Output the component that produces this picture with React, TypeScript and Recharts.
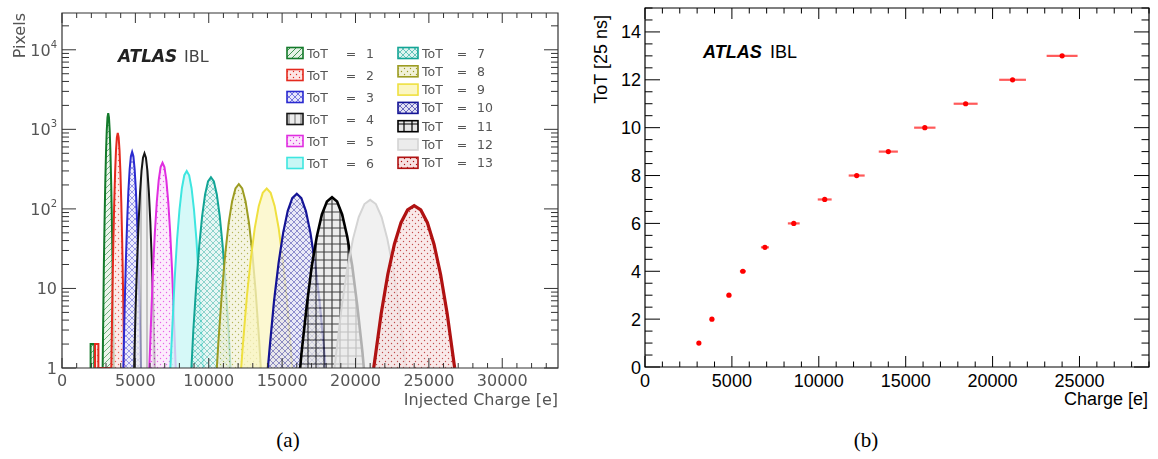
import React from 'react';
import { ComposedChart, Area, XAxis, YAxis, ReferenceArea, ScatterChart, Scatter, ErrorBar } from 'recharts';

// ---------- Panel (a): ToT distributions (counts vs injected charge) ----------
const totNames = ['1', '2', '3', '4', '5', '6', '7', '8', '9', '10', '11', '12', '13'];
const totColors = ['#137a2a', '#e42a1e', '#2a2ad0', '#151515', '#e02ee0', '#3ee6e0', '#13a596', '#9c9c22', '#efe040', '#141496', '#000000', '#d4d4d4', '#b01212'];
const totTints = ['#e6f2e6', '#fde6e4', '#e6e6fb', '#ececec', '#fbe6fb', '#c8f7f5', '#dff3f0', '#f1f1d8', '#fbf6c2', '#e2e2f4', '#e6e6e6', '#ececec', '#f7e2e2'];
const totHatch = ['diag', 'dots', 'cross', 'vert', 'dots', 'solid', 'cross', 'dots', 'solid', 'cross', 'grid', 'solid', 'dots'];
const totWidths = [2, 2, 2, 2, 2, 2, 2, 2, 2, 2.2, 2.6, 2, 3.2];

const tot1 = [{ q: 1950, n: 1 }, { q: 1950, n: 2 }, { q: 2200, n: 2 }, { q: 2200, n: 1 }, { q: 2770, n: 1 }, { q: 2850, n: 18 }, { q: 2900, n: 70 }, { q: 2950, n: 216 }, { q: 3000, n: 520 }, { q: 3050, n: 970 }, { q: 3100, n: 1412 }, { q: 3150, n: 1600 }, { q: 3200, n: 1412 }, { q: 3250, n: 970 }, { q: 3300, n: 520 }, { q: 3350, n: 216 }, { q: 3400, n: 70 }, { q: 3450, n: 18 }, { q: 3530, n: 1 }];
const tot2 = [{ q: 2250, n: 1 }, { q: 2250, n: 2 }, { q: 2480, n: 2 }, { q: 2480, n: 1 }, { q: 3360, n: 1 }, { q: 3440, n: 10 }, { q: 3500, n: 40 }, { q: 3560, n: 122 }, { q: 3620, n: 292 }, { q: 3680, n: 546 }, { q: 3740, n: 794 }, { q: 3800, n: 900 }, { q: 3860, n: 794 }, { q: 3920, n: 546 }, { q: 3980, n: 292 }, { q: 4040, n: 122 }, { q: 4100, n: 40 }, { q: 4160, n: 10 }, { q: 4240, n: 1 }];
const tot3 = [{ q: 4180, n: 1 }, { q: 4270, n: 6 }, { q: 4355, n: 23 }, { q: 4440, n: 70 }, { q: 4525, n: 169 }, { q: 4610, n: 315 }, { q: 4695, n: 459 }, { q: 4780, n: 520 }, { q: 4865, n: 459 }, { q: 4950, n: 315 }, { q: 5035, n: 169 }, { q: 5120, n: 70 }, { q: 5205, n: 23 }, { q: 5290, n: 6 }, { q: 5380, n: 1 }];
const tot4 = [{ q: 4915, n: 1 }, { q: 5020, n: 6 }, { q: 5120, n: 22 }, { q: 5220, n: 68 }, { q: 5320, n: 162 }, { q: 5420, n: 303 }, { q: 5520, n: 441 }, { q: 5620, n: 500 }, { q: 5720, n: 441 }, { q: 5820, n: 303 }, { q: 5920, n: 162 }, { q: 6020, n: 68 }, { q: 6120, n: 22 }, { q: 6220, n: 6 }, { q: 6325, n: 1 }];
const tot5 = [{ q: 5950, n: 1 }, { q: 6070, n: 4 }, { q: 6200, n: 17 }, { q: 6330, n: 51 }, { q: 6460, n: 123 }, { q: 6590, n: 230 }, { q: 6720, n: 335 }, { q: 6850, n: 380 }, { q: 6980, n: 335 }, { q: 7110, n: 230 }, { q: 7240, n: 123 }, { q: 7370, n: 51 }, { q: 7500, n: 17 }, { q: 7630, n: 4 }, { q: 7750, n: 1 }];
const tot6 = [{ q: 7385, n: 1 }, { q: 7510, n: 3 }, { q: 7675, n: 13 }, { q: 7840, n: 41 }, { q: 8005, n: 97 }, { q: 8170, n: 182 }, { q: 8335, n: 265 }, { q: 8500, n: 300 }, { q: 8665, n: 265 }, { q: 8830, n: 182 }, { q: 8995, n: 97 }, { q: 9160, n: 41 }, { q: 9325, n: 13 }, { q: 9490, n: 3 }, { q: 9615, n: 1 }];
const tot7 = [{ q: 8820, n: 1 }, { q: 8950, n: 3 }, { q: 9150, n: 11 }, { q: 9350, n: 34 }, { q: 9550, n: 81 }, { q: 9750, n: 152 }, { q: 9950, n: 221 }, { q: 10150, n: 250 }, { q: 10350, n: 221 }, { q: 10550, n: 152 }, { q: 10750, n: 81 }, { q: 10950, n: 34 }, { q: 11150, n: 11 }, { q: 11350, n: 3 }, { q: 11480, n: 1 }];
const tot8 = [{ q: 10550, n: 1 }, { q: 10670, n: 2.3 }, { q: 10900, n: 9 }, { q: 11130, n: 28 }, { q: 11360, n: 67 }, { q: 11590, n: 124 }, { q: 11820, n: 181 }, { q: 12050, n: 205 }, { q: 12280, n: 181 }, { q: 12510, n: 124 }, { q: 12740, n: 67 }, { q: 12970, n: 28 }, { q: 13200, n: 9 }, { q: 13430, n: 2.3 }, { q: 13550, n: 1 }];
const tot9 = [{ q: 12210, n: 1 }, { q: 12330, n: 2 }, { q: 12600, n: 8 }, { q: 12870, n: 24 }, { q: 13140, n: 58 }, { q: 13410, n: 109 }, { q: 13680, n: 159 }, { q: 13950, n: 180 }, { q: 14220, n: 159 }, { q: 14490, n: 109 }, { q: 14760, n: 58 }, { q: 15030, n: 24 }, { q: 15300, n: 8 }, { q: 15570, n: 2 }, { q: 15690, n: 1 }];
const tot10 = [{ q: 14030, n: 1 }, { q: 14140, n: 1.7 }, { q: 14450, n: 7 }, { q: 14760, n: 21 }, { q: 15070, n: 50 }, { q: 15380, n: 94 }, { q: 15690, n: 137 }, { q: 16000, n: 155 }, { q: 16310, n: 137 }, { q: 16620, n: 94 }, { q: 16930, n: 50 }, { q: 17240, n: 21 }, { q: 17550, n: 7 }, { q: 17860, n: 1.7 }, { q: 17970, n: 1 }];
const tot11 = [{ q: 16230, n: 1 }, { q: 16330, n: 1.6 }, { q: 16675, n: 6 }, { q: 17020, n: 19 }, { q: 17365, n: 45 }, { q: 17710, n: 85 }, { q: 18055, n: 124 }, { q: 18400, n: 140 }, { q: 18745, n: 124 }, { q: 19090, n: 85 }, { q: 19435, n: 45 }, { q: 19780, n: 19 }, { q: 20125, n: 6 }, { q: 20470, n: 1.6 }, { q: 20570, n: 1 }];
const tot12 = [{ q: 18570, n: 1 }, { q: 18660, n: 1.4 }, { q: 19050, n: 5.7 }, { q: 19440, n: 18 }, { q: 19830, n: 42 }, { q: 20220, n: 79 }, { q: 20610, n: 115 }, { q: 21000, n: 130 }, { q: 21390, n: 115 }, { q: 21780, n: 79 }, { q: 22170, n: 42 }, { q: 22560, n: 18 }, { q: 22950, n: 5.7 }, { q: 23340, n: 1.4 }, { q: 23430, n: 1 }];
const tot13 = [{ q: 21240, n: 1 }, { q: 21300, n: 1.2 }, { q: 21750, n: 4.8 }, { q: 22200, n: 15 }, { q: 22650, n: 36 }, { q: 23100, n: 67 }, { q: 23550, n: 97 }, { q: 24000, n: 110 }, { q: 24450, n: 97 }, { q: 24900, n: 67 }, { q: 25350, n: 36 }, { q: 25800, n: 15 }, { q: 26250, n: 4.8 }, { q: 26700, n: 1.2 }, { q: 26760, n: 1 }];
const totSeries = [tot1, tot2, tot3, tot4, tot5, tot6, tot7, tot8, tot9, tot10, tot11, tot12, tot13];

const aXMax = 33800;
const aYMin = 1;
const aYMax = 29000;
const aXTicks = [0, 1000, 2000, 3000, 4000, 5000, 6000, 7000, 8000, 9000, 10000, 11000, 12000, 13000, 14000, 15000, 16000, 17000, 18000, 19000, 20000, 21000, 22000, 23000, 24000, 25000, 26000, 27000, 28000, 29000, 30000, 31000, 32000, 33000];
const aXLabels = [0, 5000, 10000, 15000, 20000, 25000, 30000];
const aYTicks = [1, 2, 3, 4, 5, 6, 7, 8, 9, 10, 20, 30, 40, 50, 60, 70, 80, 90, 100, 200, 300, 400, 500, 600, 700, 800, 900, 1000, 2000, 3000, 4000, 5000, 6000, 7000, 8000, 9000, 10000, 20000];
const aYMajor = [1, 10, 100, 1000, 10000];
const aYExp = ['', '', '2', '3', '4'];

// ---------- Panel (b): ToT vs charge ----------
const bToT = [1, 2, 3, 4, 5, 6, 7, 8, 9, 10, 11, 12, 13];
const bCharge = [3100, 3850, 4830, 5630, 6900, 8560, 10340, 12180, 14000, 16100, 18450, 21150, 24000];
const bChargeErr = [70, 100, 130, 170, 230, 340, 400, 460, 550, 615, 690, 770, 890];
const bXMax = 29000;
const bYMax = 15;
const bXTicks = [0, 1000, 2000, 3000, 4000, 5000, 6000, 7000, 8000, 9000, 10000, 11000, 12000, 13000, 14000, 15000, 16000, 17000, 18000, 19000, 20000, 21000, 22000, 23000, 24000, 25000, 26000, 27000, 28000, 29000];
const bXLabels = [0, 5000, 10000, 15000, 20000, 25000];
const bYTicks = [0, 0.5, 1, 1.5, 2, 2.5, 3, 3.5, 4, 4.5, 5, 5.5, 6, 6.5, 7, 7.5, 8, 8.5, 9, 9.5, 10, 10.5, 11, 11.5, 12, 12.5, 13, 13.5, 14, 14.5, 15];
const bYLabels = [0, 2, 4, 6, 8, 10, 12, 14];

const bData = bToT.map((t, i) => ({ q: bCharge[i], tot: t, ex: bChargeErr[i] }));

const AFONT = '"DejaVu Sans", "Liberation Sans", sans-serif';
const BFONT = '"Liberation Sans", Arial, Helvetica, sans-serif';
const SERIF = '"Liberation Serif", "Times New Roman", serif';

// layout of the two frames
const A_W = 575, A_H = 420, A_PW = 496, A_PH = 355;
const B_W = 578, B_H = 420, B_PW = 504, B_PH = 359;

function Pattern({ i }: { i: number }) {
  const c = totColors[i];
  const kind = totHatch[i];
  const s = kind === 'grid' ? 8 : 6;
  return (
    <pattern id={`pat${i}`} patternUnits="userSpaceOnUse" width={s} height={s}>
      <rect width={s} height={s} fill={totTints[i]} />
      {kind === 'diag' && <path d="M0,6 L6,0" stroke={c} strokeWidth={0.8} />}
      {kind === 'cross' && <path d="M0,0 L6,6 M6,0 L0,6" stroke={c} strokeWidth={0.6} />}
      {kind === 'vert' && <path d="M3,0 L3,6" stroke={c} strokeWidth={0.6} />}
      {kind === 'grid' && <path d="M0,4 H8 M4,0 V8" stroke={c} strokeWidth={1.2} />}
      {kind === 'dots' && (
        <g fill={c}>
          <circle cx={1.5} cy={1.5} r={0.7} />
          <circle cx={4.5} cy={4.5} r={0.7} />
        </g>
      )}
    </pattern>
  );
}

const AXTick = (props: any) => {
  const { x, y, payload } = props;
  const v = payload.value;
  const maj = aXLabels.includes(v);
  const len = maj ? 10 : 5;
  return (
    <g>
      <line x1={x} x2={x} y1={y} y2={y - len} stroke="#333" strokeWidth={1} />
      <line x1={x} x2={x} y1={y - A_PH} y2={y - A_PH + len} stroke="#333" strokeWidth={1} />
      {maj && (
        <text x={x} y={y + 18} textAnchor="middle" fontFamily={AFONT} fontSize={16} fill="#555">{v}</text>
      )}
    </g>
  );
};

const AYTick = (props: any) => {
  const { x, y, payload } = props;
  const v = payload.value;
  const mi = aYMajor.indexOf(v);
  const maj = mi >= 0;
  const len = maj ? 14 : 7;
  return (
    <g>
      <line x1={x} x2={x + len} y1={y} y2={y} stroke="#333" strokeWidth={1} />
      <line x1={x + A_PW - len} x2={x + A_PW} y1={y} y2={y} stroke="#333" strokeWidth={1} />
      {maj && (
        <text x={x - 5} y={y + 6} textAnchor="end" fontFamily={AFONT} fontSize={16} fill="#555">
          {mi === 0 ? '1' : '10'}
          {aYExp[mi] && <tspan dy={-8} fontSize={10}>{aYExp[mi]}</tspan>}
        </text>
      )}
    </g>
  );
};

const BXTick = (props: any) => {
  const { x, y, payload } = props;
  const v = payload.value;
  const maj = bXLabels.includes(v);
  const len = maj ? 11 : 5.5;
  return (
    <g>
      <line x1={x} x2={x} y1={y} y2={y - len} stroke="#000" strokeWidth={1} />
      <line x1={x} x2={x} y1={y - B_PH} y2={y - B_PH + len} stroke="#000" strokeWidth={1} />
      {maj && (
        <text x={x} y={y + 20} textAnchor="middle" fontFamily={BFONT} fontSize={18} fill="#000">{v}</text>
      )}
    </g>
  );
};

const BYTick = (props: any) => {
  const { x, y, payload } = props;
  const v = payload.value;
  const maj = bYLabels.includes(v);
  const len = maj ? 15 : 7.5;
  return (
    <g>
      <line x1={x} x2={x + len} y1={y} y2={y} stroke="#000" strokeWidth={1} />
      <line x1={x + B_PW - len} x2={x + B_PW} y1={y} y2={y} stroke="#000" strokeWidth={1} />
      {maj && (
        <text x={x - 4} y={y + 6.5} textAnchor="end" fontFamily={BFONT} fontSize={18} fill="#000">{v}</text>
      )}
    </g>
  );
};

const RedDot = (props: any) => {
  const { cx, cy } = props;
  return <circle cx={cx} cy={cy} r={2.6} fill="#ff0000" />;
};

function LegendA() {
  return (
    <svg width={240} height={140} style={{ position: 'absolute', left: 280, top: 40, overflow: 'visible' }}>
      {totNames.map((name, i) => {
        const col = i < 6 ? 0 : 1;
        const row = col === 0 ? i : i - 6;
        const cy = col === 0 ? 13 + row * 22 : 13 + row * 18.3;
        const bx = col === 0 ? 7 : 118;
        const bw = col === 0 ? 16 : 20;
        const tx = col === 0 ? 27 : 142;
        const ex = col === 0 ? 71 : 182;
        const nx = col === 0 ? 86 : 197;
        return (
          <g key={name}>
            <rect x={bx} y={cy - 5.5} width={bw} height={11} fill={`url(#pat${i})`} stroke={totColors[i]} strokeWidth={1.6} />
            <text x={tx} y={cy + 4.5} fontFamily={AFONT} fontSize={12.5} fill="#555">ToT</text>
            <text x={ex} y={cy + 4.5} textAnchor="middle" fontFamily={AFONT} fontSize={12.5} fill="#555">=</text>
            <text x={nx} y={cy + 4.5} fontFamily={AFONT} fontSize={12.5} fill="#555">{name}</text>
          </g>
        );
      })}
    </svg>
  );
}

export default function App() {
  return (
    <div style={{ position: 'absolute', left: 0, top: 0, width: 1158, height: 459, background: '#fff', overflow: 'hidden' }}>
      <svg width={0} height={0} style={{ position: 'absolute' }}>
        <defs>
          {totNames.map((n, i) => <Pattern key={n} i={i} />)}
        </defs>
      </svg>

      {/* Panel (a) */}
      <div style={{ position: 'absolute', left: 0, top: 0, width: A_W, height: A_H, filter: 'blur(0.45px)' }}>
        <ComposedChart width={A_W} height={A_H} margin={{ top: 13, left: 22, right: 17, bottom: 22 }}>
          <XAxis xAxisId="a" type="number" dataKey="q" domain={[0, aXMax]} ticks={aXTicks} interval={0} allowDataOverflow
            tickSize={0} tickMargin={0} tickLine={false} axisLine={false} tick={AXTick} height={30} />
          <YAxis yAxisId="a" type="number" scale="log" domain={[aYMin, aYMax]} ticks={aYTicks} interval={0} allowDataOverflow
            tickSize={0} tickMargin={0} tickLine={false} axisLine={false} tick={AYTick} width={40} />
          {totSeries.map((d, i) => (
            <Area key={totNames[i]} xAxisId="a" yAxisId="a" data={d} dataKey="n" type="linear" baseValue={aYMin}
              stroke={totColors[i]} strokeWidth={totWidths[i]} fill={`url(#pat${i})`} fillOpacity={0.75}
              isAnimationActive={false} dot={false} activeDot={false} />
          ))}
          <ReferenceArea xAxisId="a" yAxisId="a" x1={0} x2={aXMax} y1={aYMin} y2={aYMax} fill="none" stroke="#333" strokeWidth={1.2} ifOverflow="visible" />
        </ComposedChart>
        <svg width={A_W} height={A_H} style={{ position: 'absolute', left: 0, top: 0, overflow: 'visible' }}>
          <text transform="translate(25,13) rotate(-90)" textAnchor="end" fontFamily={AFONT} fontSize={16} fill="#555">Pixels</text>
          <text x={558} y={405} textAnchor="end" fontFamily={AFONT} fontSize={16} fill="#555">Injected Charge [e]</text>
          <text x={118} y={62} fontFamily={AFONT} fontSize={17} fontWeight="bold" fontStyle="italic" fill="#222">ATLAS</text>
          <text x={184} y={62} fontFamily={AFONT} fontSize={16} fill="#444">IBL</text>
        </svg>
        <LegendA />
      </div>

      {/* Panel (b) */}
      <div style={{ position: 'absolute', left: 580, top: 0, width: B_W, height: B_H }}>
        <ScatterChart width={B_W} height={B_H} margin={{ top: 8, left: 25, right: 9, bottom: 23 }}>
          <XAxis type="number" dataKey="q" domain={[0, bXMax]} ticks={bXTicks} interval={0} allowDataOverflow
            tickSize={0} tickMargin={0} tickLine={false} axisLine={false} tick={BXTick} height={30} />
          <YAxis type="number" dataKey="tot" domain={[0, bYMax]} ticks={bYTicks} interval={0} allowDataOverflow
            tickSize={0} tickMargin={0} tickLine={false} axisLine={false} tick={BYTick} width={40} />
          <ReferenceArea x1={0} x2={bXMax} y1={0} y2={bYMax} fill="none" stroke="#000" strokeWidth={1.2} ifOverflow="visible" />
          <Scatter data={bData} shape={RedDot} isAnimationActive={false}>
            <ErrorBar dataKey="ex" direction="x" width={0} stroke="#ff5a5a" strokeWidth={2.2} />
          </Scatter>
        </ScatterChart>
        <svg width={B_W} height={B_H} style={{ position: 'absolute', left: 0, top: 0, overflow: 'visible' }}>
          <text transform="translate(27,15) rotate(-90)" textAnchor="end" fontFamily={BFONT} fontSize={18} fill="#000">ToT [25 ns]</text>
          <text x={568} y={405} textAnchor="end" fontFamily={BFONT} fontSize={18} fill="#000">Charge [e]</text>
          <text x={123} y={58} fontFamily={BFONT} fontSize={18} fontWeight="bold" fontStyle="italic" fill="#000">ATLAS</text>
          <text x={190} y={58} fontFamily={BFONT} fontSize={18} fill="#000">IBL</text>
        </svg>
      </div>

      {/* captions */}
      <svg width={1158} height={459} style={{ position: 'absolute', left: 0, top: 0, pointerEvents: 'none' }}>
        <text x={288} y={447} textAnchor="middle" fontFamily={SERIF} fontSize={21} fill="#000">(a)</text>
        <text x={866} y={447} textAnchor="middle" fontFamily={SERIF} fontSize={21} fill="#000">(b)</text>
      </svg>
    </div>
  );
}
